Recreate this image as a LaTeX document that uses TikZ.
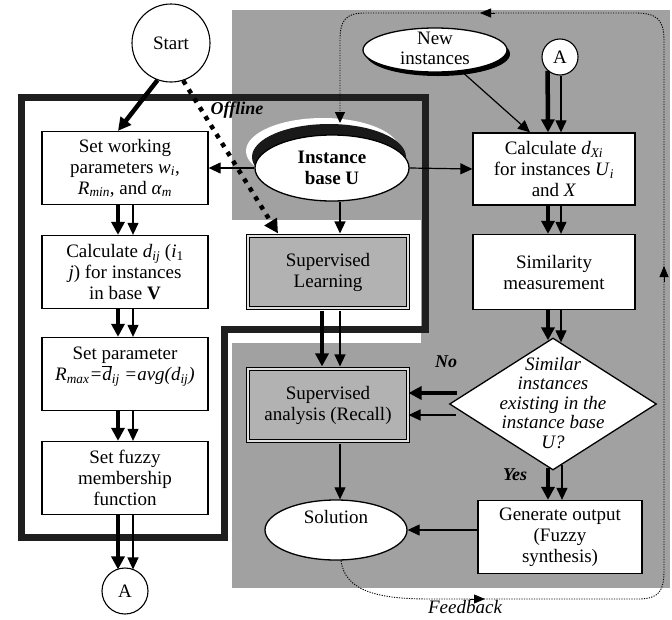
\documentclass[tikz,border=0pt]{standalone}
\usepackage{fontspec}
\setmainfont{Liberation Serif}
\usetikzlibrary{arrows.meta,shapes.geometric,calc}
\begin{document}
\begin{tikzpicture}[x=1pt,y=-1pt,
  every node/.style={font=\fontsize{19}{21}\selectfont},
  box/.style={draw, line width=1.3pt, fill=white, minimum width=166pt, minimum height=73pt, align=center, inner sep=1pt},
  sbox/.style={draw, line width=1.1pt, double=black!12, double distance=2.5pt, fill=black!30, minimum width=160pt, minimum height=72pt, align=center},
  ell/.style={ellipse, draw, line width=1.3pt, fill=white, inner sep=0pt},
  circ/.style={circle, draw, line width=1.1pt, fill=white, inner sep=0pt},
  txt/.style={align=center, inner sep=0pt},
  thk/.style={line width=4.5pt, -{Triangle[length=13pt,width=13pt]}},
  thn/.style={line width=1.2pt, -{Triangle[length=12pt,width=11pt]}},
  fb/.style={line width=0.9pt, dash pattern=on 1.2pt off 1.3pt},
  fbtip/.style={line width=0.8pt, -{Triangle[length=11pt,width=9pt]}},
  lbl/.style={font=\fontsize{18}{20}\selectfont\bfseries\itshape, inner sep=0pt}
]
\useasboundingbox (0,0) rectangle (672,619);
% background
\fill[black!37] (232,10) rectangle (670,588);
\fill[white] (228,220) rectangle (421,343);
% offline frame
\draw[line width=7pt, black!88, line join=miter] (21,97) -- (425,97) -- (425,329) -- (224,329) -- (224,537) -- (21,537) -- cycle;

% left column
\node[circ, minimum size=78pt] (start) at (171,43) {Start};
\node[box] (setw) at (125,168) {Set working\\parameters \textit{w}\textsubscript{\textit{i}},\\\textit{R}\textsubscript{\textit{min}}, and \textit{α}\textsubscript{\textit{m}}};
\node[box] (calc) at (125,272) {Calculate \textit{d}\textsubscript{\textit{ij}} (\textit{i}\textsubscript{1}\\\textit{j}) for instances\\in base \textbf{V}};
\node[box] (setp) at (125,374) {};
\node[txt] (setpt) at (125,367) {Set parameter\\{\itshape R\textsubscript{max}=$\overline{\hbox{\itshape d}}$\textsubscript{ij} =avg(d\textsubscript{ij})}};
\node[box] (fuzzy) at (125,478) {Set fuzzy\\membership\\function};
\node[circ, minimum size=46pt] (A1) at (125,591) {A};

% instance base with shadow
\node[ellipse, fill=white, minimum width=154pt, minimum height=66pt, inner sep=0pt] (ibw) at (323,151) {};
\node[ellipse, fill=black!90, minimum width=154pt, minimum height=66pt, inner sep=0pt] (ibb) at (329,157) {};
\node[ell, minimum width=154pt, minimum height=66pt] (ib) at (332,168) {};
\node[txt, font=\fontsize{19}{21}\selectfont\bfseries] (ibt) at (332,168) {Instance\\base U};

% middle
\node[sbox] (sl) at (328,272) {Supervised\\Learning};
\node[sbox] (sa) at (328,405) {Supervised\\analysis (Recall)};
\node[ell, minimum width=142pt, minimum height=60pt] (sol) at (336,530) {};
\node[txt] (solt) at (336,517) {Solution};

% right column
\node[ellipse, fill=black, minimum width=144pt, minimum height=44pt, inner sep=0pt] (nish) at (438,54) {};
\node[ell, minimum width=144pt, minimum height=44pt] (ni) at (435,50) {};
\node[txt, font=\fontsize{19}{20}\selectfont] (nit) at (435,48) {New\\instances};
\node[circ, minimum size=36pt] (A2) at (560,57) {A};
\node[box, minimum width=162pt, minimum height=72pt] (cx) at (554,169) {Calculate \textit{d}\textsubscript{\textit{Xi}}\\for instances \textit{U}\textsubscript{\textit{i}}\\and \textit{X}};
\node[box, minimum width=162pt, minimum height=75pt] (sim) at (554,272) {Similarity\\measurement};
\node[diamond, draw, line width=1.3pt, fill=white, minimum width=207pt, minimum height=132pt, inner sep=0pt] (dia) at (553,404) {};
\node[txt, font=\fontsize{19}{19.5}\selectfont\itshape] (diat) at (553,403) {Similar\\instances\\existing in the\\instance base\\U?};
\node[box, minimum width=164pt, minimum height=73pt] (gen) at (560,537) {Generate output\\(Fuzzy\\synthesis)};

% labels
\node[lbl] (off) at (237,110) {Offline};
\node[lbl] (no) at (446,362) {No};
\node[lbl] (yes) at (515,475) {Yes};
\node[txt, font=\fontsize{19}{21}\selectfont\itshape] (fbl) at (465,607) {Feedback};

% left column arrows
\draw[thk] (start.-110) -- ($(setw.north)+(-7,0)$);
\draw[line width=4.5pt, dash pattern=on 4.5pt off 6pt, -{Triangle[length=14pt,width=14pt]}] (start.-72) -- ($(sl.north)+(-50,-2)$);
\foreach \u/\v in {setw/calc, calc/setp, setp/fuzzy}{
  \draw[thk] ($(\u.south)+(-7,0)$) -- ($(\v.north)+(-7,0)$);
  \draw[thn] ($(\u.south)+(8,0)$) -- ($(\v.north)+(8,0)$);
}
\draw[thk] ($(fuzzy.south)+(-7,0)$) -- ($(A1.north)+(-7,2)$);
\draw[thn] ($(fuzzy.south)+(8,0)$) -- ($(A1.north)+(8,2)$);

% instance base arrows
\draw[thn] (ib.west) -- (setw.east);
\draw[thn] (ib.east) -- (cx.west);
\draw[thn] ($(ib.south)+(8,0)$) -- ($(sl.north)+(12,-2)$);

% middle arrows
\draw[thk] ($(sl.south)+(-6,2)$) -- ($(sa.north)+(-6,-2)$);
\draw[thn] ($(sl.south)+(12,2)$) -- ($(sa.north)+(12,-2)$);
\draw[thn] ($(sa.south)+(12,2)$) -- ($(sol.north)+(4,0)$);

% right column arrows
\draw[thn] ($(ni.south)+(28,0)$) -- ($(cx.north)+(-24,0)$);
\draw[thk] (A2.-132) -- ($(cx.north)+(-6,0)$);
\draw[thn] ($(A2.south)+(1,0)$) -- ($(cx.north)+(7,0)$);
\draw[thk] ($(cx.south)+(-6,0)$) -- ($(sim.north)+(-6,0)$);
\draw[thn] ($(cx.south)+(7,0)$) -- ($(sim.north)+(7,0)$);
\draw[thk] ($(sim.south)+(-6,0)$) -- ($(dia.north)+(-5,3)$);
\draw[thn] ($(sim.south)+(7,0)$) -- ($(dia.north)+(8,5)$);
\draw[thk] ($(dia.south)+(-5,-3)$) -- ($(gen.north)+(-12,0)$);
\draw[thn] ($(dia.south)+(9,-6)$) -- ($(gen.north)+(2,0)$);
\draw[thk] ($(dia.west)+(8,-11)$) -- ($(sa.east)+(0,-12)$);
\draw[thn] ($(dia.west)+(7,11)$) -- ($(sa.east)+(0,10)$);
\draw[thn] ($(gen.west)+(0,-7)$) -- (sol.east);

% feedback loop
\draw[fb, -{Triangle[length=11pt,width=10pt]}] ($(sol.south)+(5,0)$) .. controls (345,592) and (380,599) .. (430,599) -- (638,599)
  .. controls (660,599) and (664,590) .. (664,570) -- (664,40)
  .. controls (664,18) and (655,13) .. (635,13) -- (365,13)
  .. controls (346,13) and (340,20) .. (340,40) -- (340,123);
\draw[fbtip] (470,599) -- (485,599);
\draw[fbtip] (664,282) -- (664,266);
\draw[fbtip] (495,13) -- (480,13);
\end{tikzpicture}
\end{document}
